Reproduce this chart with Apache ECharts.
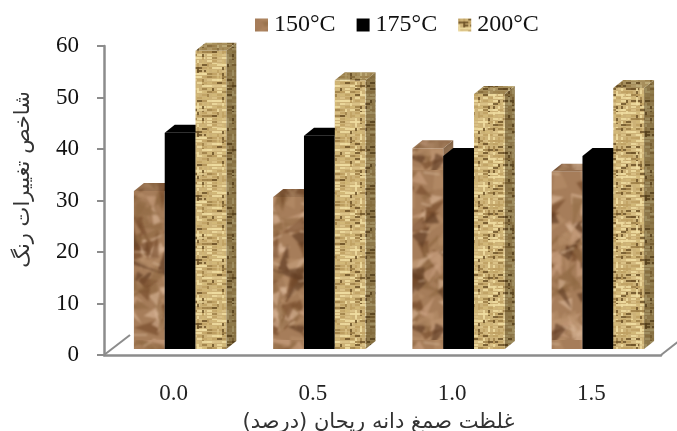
<!DOCTYPE html>
<html>
<head>
<meta charset="utf-8">
<style>html,body{margin:0;padding:0;background:#fff}#chart{width:677px;height:431px}</style>
<script src="https://cdn.jsdelivr.net/npm/echarts@6/dist/echarts.min.js"></script>
</head>
<body>
<div id="chart"></div>
<script>
// Colour change index against basil seed gum concentration, at three temperatures
const categories = ['0.0', '0.5', '1.0', '1.5'];
const seriesNames = ['150°C', '175°C', '200°C'];
const values150 = [30.7, 29.5, 39, 34.4];
const values175 = [42, 41.4, 37.5, 37.5];
const values200 = [57.9, 52.2, 49.5, 50.7];
const xTitle = 'غلظت صمغ دانه ریحان (درصد)';
const yTitle = 'شاخص تغییرات رنگ';

// Fixed-sequence generator so the material textures come out the same every time
function sequence(seed) {
  let s = seed;
  return () => { s = (s * 1664525 + 1013904223) % 4294967296; return s / 4294967296; };
}
function makeCanvas(w, h) {
  const c = document.createElement('canvas');
  c.width = w; c.height = h;
  return c;
}
// Crumpled paper look: overlapping soft facets with a few pale creases
function crumpledTexture(shade) {
  const c = makeCanvas(120, 170), g = c.getContext('2d'), r = sequence(11);
  g.fillStyle = '#a67d5a';
  g.fillRect(0, 0, 120, 170);
  g.filter = 'blur(1.3px)';
  const tones = ['#74492a', '#c9a07f', '#8f6842', '#d9b597', '#5e3a22', '#b58d68'];
  for (let i = 0; i < 190; i++) {
    const x = r() * 120, y = r() * 170, a = r() * 6.28, l = 12 + r() * 20, w = 6 + r() * 12;
    g.fillStyle = tones[Math.floor(r() * tones.length)];
    g.globalAlpha = 0.65;
    g.beginPath();
    g.moveTo(x, y);
    g.lineTo(x + Math.cos(a) * l, y + Math.sin(a) * l);
    g.lineTo(x + Math.cos(a + 1.3) * w, y + Math.sin(a + 1.3) * w);
    g.closePath();
    g.fill();
  }
  g.filter = 'blur(1px)';
  g.strokeStyle = '#e0c2a6';
  g.lineWidth = 1.6;
  for (let i = 0; i < 16; i++) {
    const x = r() * 120, y = r() * 170;
    g.globalAlpha = 0.55;
    g.beginPath();
    g.moveTo(x, y);
    g.lineTo(x + 6 + r() * 10, y - 6 + r() * 10);
    g.stroke();
  }
  g.filter = 'none';
  g.globalAlpha = 1;
  if (shade) { g.fillStyle = 'rgba(40,25,10,' + shade + ')'; g.fillRect(0, 0, 120, 170); }
  return c;
}
// Woven straw look: mostly tan strands, some pale highlights and dark flecks
function wovenTexture(shade) {
  const c = makeCanvas(64, 64), g = c.getContext('2d'), r = sequence(29);
  g.fillStyle = '#cdb277';
  g.fillRect(0, 0, 64, 64);
  g.filter = 'blur(0.5px)';
  const tones = ['#efdca0', '#bfa163', '#dcc388', '#9d7f46', '#efdca0', '#bfa163', '#6e5328', '#d2b878'];
  for (let y = 0; y < 64; y += 3) {
    for (let x = 0; x < 64; x += 5) {
      g.fillStyle = tones[Math.floor(r() * tones.length)];
      g.globalAlpha = 0.85;
      if (r() < 0.7) g.fillRect(x, y, 5 + r() * 6, 2);
      else g.fillRect(x, y, 2, 3 + r() * 5);
    }
  }
  g.filter = 'none';
  g.globalAlpha = 1;
  if (shade) { g.fillStyle = 'rgba(50,35,10,' + shade + ')'; g.fillRect(0, 0, 64, 64); }
  return c;
}
const pattern = img => ({ image: img, repeat: 'repeat' });

const faces = [
  { front: pattern(crumpledTexture(0)), side: pattern(crumpledTexture(0.3)), top: pattern(crumpledTexture(0.12)) },
  { front: '#000000', side: '#000000', top: '#000000' },
  { front: pattern(wovenTexture(0)), side: pattern(wovenTexture(0.42)), top: pattern(wovenTexture(0.25)) }
];

// Depth of the oblique projection and bar placement inside a category band
const depthX = 10, depthY = 8, floorLift = 6, barWidth = 30.8, groupShift = 6.5;

function barRenderer(seriesIndex) {
  return function (params, api) {
    const cat = api.value(0);
    const top = api.coord([cat, api.value(1)]);
    const base = api.coord([cat, 0]);
    const x0 = top[0] + groupShift + (seriesIndex - 1.5) * barWidth;
    const x1 = x0 + barWidth;
    const yT = top[1] - floorLift, yB = base[1] - floorLift;
    const f = faces[seriesIndex];
    return {
      type: 'group',
      children: [
        { type: 'polygon', shape: { points: [[x1, yT], [x1 + depthX, yT - depthY], [x1 + depthX, yB - depthY], [x1, yB]] }, style: { fill: f.side } },
        { type: 'polygon', shape: { points: [[x0, yT], [x0 + depthX, yT - depthY], [x1 + depthX, yT - depthY], [x1, yT]] }, style: { fill: f.top } },
        { type: 'rect', shape: { x: x0, y: yT, width: barWidth, height: yB - yT }, style: { fill: f.front } }
      ]
    };
  };
}

// Floor edges running back from the two front corners of the plot
function floorRenderer(params, api) {
  const left = api.coord([0, 0]);
  const band = api.size([1, 0])[0];
  const xL = left[0] - band / 2, xR = xL + band * categories.length, y = left[1];
  const line = (a, b) => ({
    type: 'line',
    shape: { x1: a[0], y1: a[1], x2: b[0], y2: b[1] },
    style: { stroke: '#8c8c8c', lineWidth: 2 }
  });
  return {
    type: 'group',
    children: [
      line([xL, y], [xL + 26, y - 20]),
      line([xR, y], [xR + 18, y - 14])
    ]
  };
}

const allValues = [values150, values175, values200];
const serif = '"Liberation Serif", serif';
const barSeries = seriesNames.map((name, i) => ({
  name,
  type: 'custom',
  renderItem: barRenderer(i),
  itemStyle: { color: faces[i].front },
  encode: { x: 0, y: 1 },
  data: allValues[i].map((v, c) => [c, v])
}));

const chart = echarts.init(document.getElementById('chart'), null, { renderer: 'canvas' });
chart.setOption({
  animation: false,
  backgroundColor: '#ffffff',
  grid: { left: 104, top: 46, width: 557, height: 309, outerBoundsMode: 'none' },
  legend: {
    data: seriesNames,
    top: 8,
    left: 250,
    icon: 'rect',
    itemWidth: 13,
    itemHeight: 13,
    itemGap: 21,
    textStyle: { fontFamily: serif, fontSize: 24, color: '#111', padding: [0, 0, 0, 1] }
  },
  xAxis: {
    type: 'category',
    data: categories,
    axisLine: { lineStyle: { color: '#8c8c8c', width: 2.5 } },
    axisTick: { show: false },
    axisLabel: { fontFamily: serif, fontSize: 23, color: '#222', margin: 27 },
    name: xTitle,
    nameLocation: 'middle',
    nameGap: 57,
    nameTextStyle: { fontFamily: '"DejaVu Sans"', fontSize: 21, color: '#333', padding: [0, 8, 0, 0] }
  },
  yAxis: {
    type: 'value',
    min: 0,
    max: 60,
    interval: 10,
    splitLine: { show: false },
    axisLine: { show: true, lineStyle: { color: '#8c8c8c', width: 2.5 } },
    axisTick: { show: true, length: 7, lineStyle: { color: '#8c8c8c', width: 2 } },
    axisLabel: { fontFamily: serif, fontSize: 23, color: '#111', margin: 25 },
    name: yTitle,
    nameLocation: 'middle',
    nameRotate: 90,
    nameGap: 70,
    nameTextStyle: { fontFamily: '"DejaVu Sans"', fontSize: 21, color: '#333', padding: [0, 0, 0, 42] }
  },
  series: [
    { name: 'floor', type: 'custom', renderItem: floorRenderer, silent: true, encode: { x: 0, y: 1 }, data: [[0, 0]] },
    ...barSeries
  ]
});
</script>
</body>
</html>
